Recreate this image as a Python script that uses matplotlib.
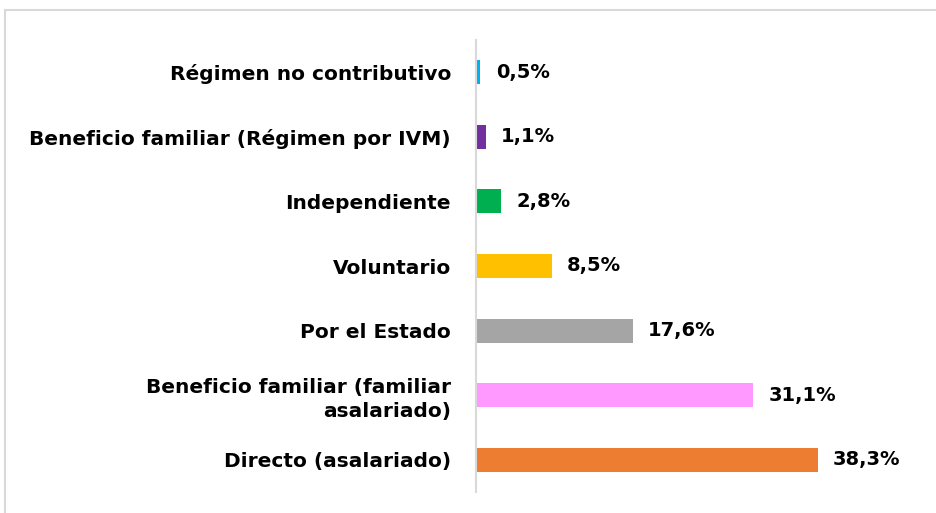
import matplotlib
matplotlib.use("Agg")
import matplotlib.pyplot as plt
from matplotlib.patches import Rectangle

categories = [
    "Directo (asalariado)",
    "Beneficio familiar (familiar\nasalariado)",
    "Por el Estado",
    "Voluntario",
    "Independiente",
    "Beneficio familiar (Régimen por IVM)",
    "Régimen no contributivo",
]
values = [38.3, 31.1, 17.6, 8.5, 2.8, 1.1, 0.5]
value_labels = ["38,3%", "31,1%", "17,6%", "8,5%", "2,8%", "1,1%", "0,5%"]
colors = ["#ED7D31", "#FF99FF", "#A5A5A5", "#FFC000", "#00B050", "#7030A0", "#00B0F0"]

plt.rcParams['font.family'] = ['DejaVu Sans']

W, H = 937, 513
fig = plt.figure(figsize=(W / 100, H / 100), dpi=100)
fig.patches.append(Rectangle((5 / W, -0.1), 1.2, 1 - 10 / H + 0.1, transform=fig.transFigure,
                             fill=False, edgecolor="#D9D9D9", linewidth=1.5))

ax = fig.add_axes([476 / W, 1 - 492 / H, 446 / W, 452 / H])
y = list(range(len(categories)))
ax.barh(y, values, height=0.37, color=colors)
ax.set_ylim(-0.5, 6.5)
ax.set_xlim(0, 50)
ax.set_yticks(y)
ax.set_yticklabels(categories, fontsize=14.5, fontweight="bold", color="#000000",
                   linespacing=1.3)
ax.tick_params(axis="y", length=0, pad=18)
ax.set_xticks([])
for s in ["top", "right", "bottom"]:
    ax.spines[s].set_visible(False)
ax.spines["left"].set_color("#D9D9D9")
ax.spines["left"].set_linewidth(1.5)

for yi, v, lab in zip(y, values, value_labels):
    ax.annotate(lab, (v, yi), xytext=(11, 0), textcoords="offset points",
                va="center", ha="left", fontsize=14, fontweight="bold", color="#000000")

fig.savefig("out.png", dpi=100)
